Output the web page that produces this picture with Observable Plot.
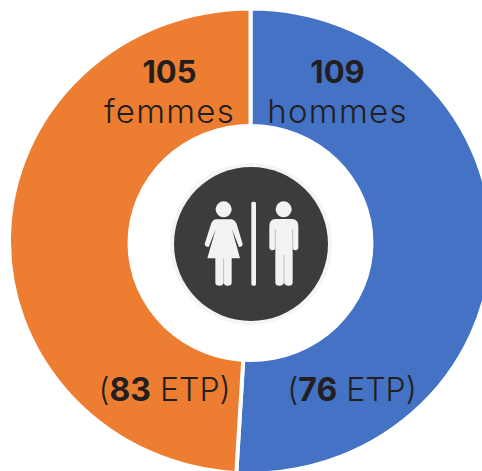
<!DOCTYPE html>
<html><head><meta charset="utf-8">
<script src="https://cdn.jsdelivr.net/npm/d3@7"></script>
<script src="https://cdn.jsdelivr.net/npm/@observablehq/plot@0.6"></script>
<style>html,body{margin:0;padding:0;background:#fff}svg{display:block}</style>
</head><body><div id="chart"></div>
<script>
const genres = ["hommes", "femmes"];
const effectifs = [109, 105];
const etp = [76, 83];
const couleurs = ["#4472c4", "#ed7d31"];

const W = 482, H = 471;
const cx = 250.5, cy = 241, squash = 231 / 240, rOuter = 241.5;
const iconY = 243.5;
const ink = "#231f20", font = "Inter, 'Open Sans', sans-serif";

const labelPos = {
  hommes: {px: 337, py1: 82, py2: 122, px3: 351.5, py3: 400},
  femmes: {px: 169, py1: 82, py2: 122, px3: 164, py3: 400}
};
const rows = genres.map((g, i) => ({genre: g, n: effectifs[i], etp: etp[i], color: couleurs[i], ...labelPos[g]}));

function donut(index, {x, y}) {
  const slices = d3.pie().sort(null).value(d => d.n)(rows);
  const arc = d3.arc().innerRadius(90).outerRadius(rOuter);
  const g = d3.create("svg:g");
  g.append("g").attr("transform", `translate(${x(cx)},${y(cy)}) scale(1,${squash})`)
    .selectAll("path").data(slices).join("path")
    .attr("d", arc).attr("fill", d => d.data.color)
    .attr("stroke", "#fff").attr("stroke-width", 4);
  g.append("ellipse").attr("cx", x(cx)).attr("cy", y(243)).attr("rx", 123).attr("ry", 119).attr("fill", "#fff");
  return g.node();
}

function pictogram(index, {x, y}) {
  const g = d3.create("svg:g").attr("fill", "#f3f3f3")
    .attr("transform", `translate(${x(130)},${y(130)}) scale(${1/3})`);
  // femme
  g.append("circle").attr("cx", 281).attr("cy", 238).attr("r", 24);
  g.append("path").attr("d", "M258 268 H304 Q315 270 320 282 L338 342 Q338 350 327 351 L306 298 L330 385 H305 V458 Q305 467 293 467 Q283 467 281 458 Q279 467 269 467 Q256 467 256 458 V385 H232 L257 298 L236 351 Q224 350 224 342 L243 282 Q247 270 258 268 Z");
  // séparation
  g.append("rect").attr("x", 364).attr("y", 215).attr("width", 14).attr("height", 252).attr("rx", 5);
  // homme
  g.append("circle").attr("cx", 461).attr("cy", 238).attr("r", 24);
  g.append("path").attr("d", "M436 267 H486 Q505 268 505 288 V352 Q505 361 496 361 Q488 361 488 352 V458 Q488 467 475 467 Q465 467 462 458 Q459 467 449 467 Q436 467 436 458 V352 Q436 361 427 361 Q418 361 418 352 V288 Q418 268 436 267 Z");
  // fines ombres entre les membres
  g.append("path").attr("fill", "none").attr("stroke", "#bdbdbd").attr("stroke-width", 3)
    .attr("d", "M281 385 V458 M436 298 V352 M488 298 V352 M462 375 V458");
  return g.node();
}

function splitEtp(index, scales, values, dims, ctx, next) {
  const node = next(index, scales, values, dims, ctx);
  d3.select(node).selectAll("text").each(function() {
    const s = d3.select(this), m = s.text().match(/^\((\d+)( ETP\))$/);
    s.text("");
    s.append("tspan").text("(");
    s.append("tspan").attr("font-weight", 700).text(m[1]);
    s.append("tspan").text(m[2]);
  });
  return node;
}

function spaced(index, scales, values, dims, ctx, next) {
  const node = next(index, scales, values, dims, ctx);
  d3.select(node).selectAll("text").attr("letter-spacing", "1.3px");
  return node;
}

const plot = Plot.plot({
  width: W, height: H, margin: 0,
  x: {domain: [0, W], range: [0, W], axis: null},
  y: {domain: [0, H], range: [0, H], axis: null},
  style: {background: "#fff", fontFamily: font},
  marks: [
    donut,
    Plot.dot([0], {x: () => cx, y: () => iconY, r: 81, fill: "#f5f5f5"}),
    Plot.dot([0], {x: () => cx, y: () => iconY, r: 77, fill: "#3c3c3b"}),
    pictogram,
    Plot.text(rows, {x: "px", y: "py1", text: d => String(d.n), fontSize: 31, fontWeight: 700, fill: ink, lineAnchor: "bottom"}),
    Plot.text(rows, {x: "px", y: "py2", text: "genre", fontSize: 33, fontWeight: 300, fill: ink, lineAnchor: "bottom", render: spaced}),
    Plot.text(rows, {x: "px3", y: "py3", text: d => `(${d.etp} ETP)`, fontSize: 32, fontWeight: 300, fill: ink, lineAnchor: "bottom", render: splitEtp})
  ]
});
document.getElementById("chart").append(plot);
</script></body></html>
